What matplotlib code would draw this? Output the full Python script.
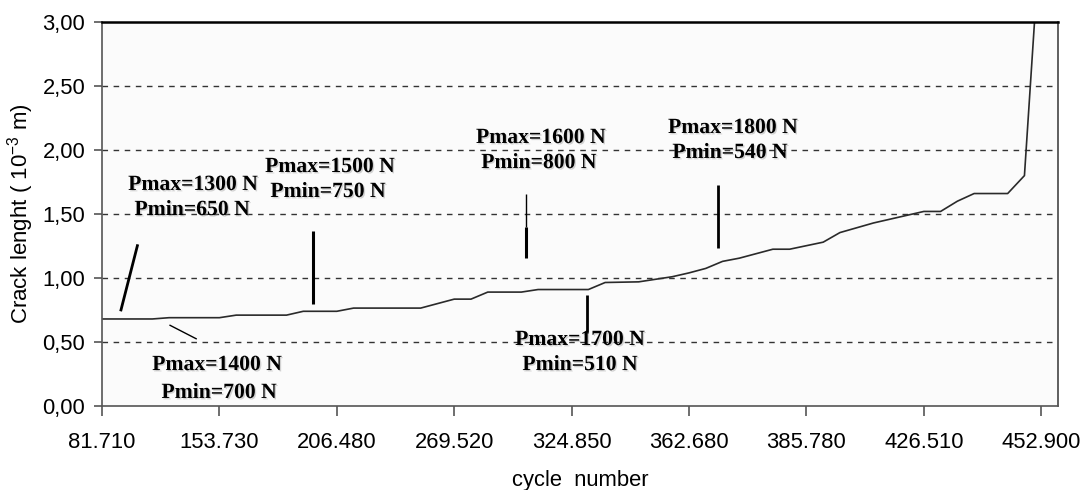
import matplotlib
matplotlib.use("Agg")
import matplotlib.pyplot as plt
import matplotlib.patheffects as pe

# Crack growth series: category index on the cycle axis and measured length
cat_idx = [0, 3, 4, 7, 8, 11, 12, 14, 15, 19, 21, 22, 23, 25, 26, 29, 30, 32,
           33, 34, 35, 36, 37, 38, 40, 41, 43, 44, 46, 48, 49, 50, 51, 52, 54,
           55, 56]
crack = [0.68, 0.68, 0.69, 0.69, 0.71, 0.71, 0.74, 0.74, 0.765, 0.765, 0.835,
         0.835, 0.89, 0.89, 0.91, 0.91, 0.965, 0.97, 0.99, 1.01, 1.04, 1.075,
         1.13, 1.155, 1.225, 1.225, 1.28, 1.355, 1.43, 1.49, 1.52, 1.52, 1.60,
         1.66, 1.66, 1.80, 3.80]

n_categories = 58
tick_step = 7
cycle_labels = ["81.710", "153.730", "206.480", "269.520", "324.850",
                "362.680", "385.780", "426.510", "452.900"]
y_ticks = [0.0, 0.5, 1.0, 1.5, 2.0, 2.5, 3.0]

# Load-level annotations, one entry per text line
load_texts = ["Pmax=1300 N", "Pmin=650 N",
              "Pmax=1500 N", "Pmin=750 N",
              "Pmax=1400 N", "Pmin=700 N",
              "Pmax=1600 N", "Pmin=800 N",
              "Pmax=1700 N", "Pmin=510 N",
              "Pmax=1800 N", "Pmin=540 N"]
text_x = [5.43, 5.37, 13.59, 13.47, 6.86, 6.98, 26.17, 26.05, 28.50, 28.50,
          37.62, 37.44]
text_y = [1.727, 1.531, 1.867, 1.672, 0.320, 0.102, 2.094, 1.898, 0.516,
          0.320, 2.172, 1.977]

# Pointer strokes linking each load block to the curve
ptr_x0 = [1.11, 12.56, 25.27, 25.27, 28.9, 36.75, 4.02]
ptr_y0 = [0.74, 0.797, 1.154, 1.40, 0.568, 1.232, 0.633]
ptr_x1 = [2.13, 12.56, 25.27, 25.27, 28.9, 36.75, 5.65]
ptr_y1 = [1.263, 1.37, 1.40, 1.66, 0.867, 1.727, 0.523]
ptr_w = [2.0, 2.2, 2.2, 1.0, 2.0, 2.0, 1.0]

plt.rcParams["font.family"] = ["Liberation Sans", "DejaVu Sans"]
plt.rcParams["mathtext.fontset"] = "custom"
plt.rcParams["mathtext.rm"] = "Liberation Sans"
plt.rcParams["mathtext.it"] = "Liberation Sans"

fig = plt.figure(figsize=(10.83, 4.90), dpi=100)
ax = fig.add_axes([0.0942, 0.1714, 0.8827, 0.7837])
ax.set_facecolor("#fbfbfb")

ax.plot(cat_idx, crack, color="#2a2a2a", lw=1.2, solid_joinstyle="round")

for x0, y0, x1, y1, w in zip(ptr_x0, ptr_y0, ptr_x1, ptr_y1, ptr_w):
    ax.plot([x0, x1], [y0, y1], color="black", lw=w, solid_capstyle="butt")

shadow = [pe.withSimplePatchShadow(offset=(1.0, -1.0),
                                   shadow_rgbFace="#888888", alpha=0.35)]
for t, x, y in zip(load_texts, text_x, text_y):
    ax.text(x, y, t, ha="center", va="center", fontsize=15.6,
            family="Liberation Serif", weight="bold", color="black",
            path_effects=shadow, zorder=5)

ax.set_xlim(0, n_categories - 1)
ax.set_ylim(0, 3.0)

ax.set_xticks(list(range(0, n_categories - 1, tick_step)))
ax.set_xticklabels(cycle_labels)
ax.set_yticks(y_ticks)
ax.set_yticklabels([f"{v:.2f}".replace(".", ",") for v in y_ticks])
ax.tick_params(axis="both", labelsize=15.8, colors="#555555",
               labelcolor="black", direction="out", width=1.2)
ax.tick_params(axis="x", length=7, pad=12)
ax.tick_params(axis="y", length=6, pad=6)

for g in [0.5, 1.0, 1.5, 2.0, 2.5]:
    ax.axhline(g, color="#333333", lw=1.0, dashes=(4, 4), zorder=1)

ax.spines["top"].set_color("black")
ax.spines["top"].set_linewidth(1.8)
ax.spines["right"].set_color("#444444")
ax.spines["right"].set_linewidth(1.2)
ax.spines["left"].set_color("#555555")
ax.spines["left"].set_linewidth(1.2)
ax.spines["bottom"].set_color("#555555")
ax.spines["bottom"].set_linewidth(1.2)

ax.set_xlabel("cycle  number", fontsize=15.8, labelpad=12)
ax.set_ylabel("Crack lenght ( 10$^{-3}$ m)", fontsize=16, labelpad=5)

fig.savefig("out.png", dpi=100, facecolor="white")
